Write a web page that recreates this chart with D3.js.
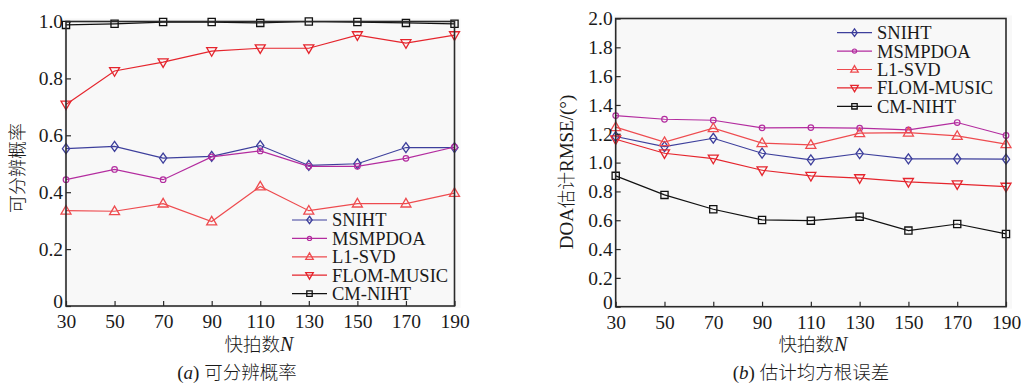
<!DOCTYPE html>
<html>
<head>
<meta charset="utf-8">
<script src="https://cdn.jsdelivr.net/npm/d3@7"></script>
<style>
  body { margin: 0; background: #fff; }
  svg { display: block; }
</style>
</head>
<body>
<svg id="fig" width="1021" height="383"></svg>
<script>
// snapshots N
var snapshots = [30, 50, 70, 90, 110, 130, 150, 170, 190];
var xTicks = [30, 50, 70, 90, 110, 130, 150, 170, 190];
var seriesNames = ["SNIHT", "MSMPDOA", "L1-SVD", "FLOM-MUSIC", "CM-NIHT"];

// (a) resolution probability
var probSNIHT   = [0.553, 0.561, 0.520, 0.526, 0.564, 0.494, 0.500, 0.557, 0.557];
var probMSMPDOA = [0.444, 0.480, 0.444, 0.524, 0.545, 0.491, 0.491, 0.519, 0.559];
var probL1SVD   = [0.335, 0.333, 0.360, 0.297, 0.420, 0.335, 0.360, 0.360, 0.397];
var probFLOM    = [0.708, 0.826, 0.857, 0.896, 0.906, 0.906, 0.952, 0.924, 0.952];
var probCMNIHT  = [0.988, 0.992, 0.998, 0.998, 0.995, 1.000, 0.998, 0.995, 0.992];
var probTicks   = [0, 0.2, 0.4, 0.6, 0.8, 1.0];

// (b) DOA RMSE (deg)
var rmseSNIHT   = [1.181, 1.111, 1.169, 1.065, 1.019, 1.063, 1.026, 1.026, 1.024];
var rmseMSMPDOA = [1.326, 1.301, 1.294, 1.241, 1.243, 1.239, 1.227, 1.278, 1.188];
var rmseL1SVD   = [1.246, 1.142, 1.239, 1.135, 1.123, 1.204, 1.208, 1.185, 1.128];
var rmseFLOM    = [1.162, 1.065, 1.028, 0.947, 0.908, 0.892, 0.866, 0.850, 0.833];
var rmseCMNIHT  = [0.908, 0.776, 0.676, 0.602, 0.597, 0.625, 0.528, 0.574, 0.505];
var rmseTicks   = [0, 0.2, 0.4, 0.6, 0.8, 1.0, 1.2, 1.4, 1.6, 1.8, 2.0];

var styles = [
  {color: "#3d3f9c", marker: "diamond"},
  {color: "#b32c9f", marker: "circle"},
  {color: "#ee4b4f", marker: "up"},
  {color: "#e5252d", marker: "down"},
  {color: "#111111", marker: "square"}
];

var serif = "'Liberation Serif', 'DejaVu Serif', serif";
var cjk = "'Noto Sans CJK SC', sans-serif";

var svg = d3.select("#fig");

function markerPath(type, s) {
  // s = scale factor
  if (type == "diamond") return `M0,${-5*s}L${3.6*s},0L0,${5*s}L${-3.6*s},0Z`;
  if (type == "up") return `M0,${-5.2*s}L${5*s},${3.4*s}L${-5*s},${3.4*s}Z`;
  if (type == "down") return `M0,${5.2*s}L${5*s},${-3.4*s}L${-5*s},${-3.4*s}Z`;
  if (type == "square") return `M${-3.6*s},${-3.6*s}h${7.2*s}v${7.2*s}h${-7.2*s}Z`;
  return null;
}

function drawMarker(g, type, color, x, y, s) {
  if (type == "circle") {
    g.append("circle").attr("cx", x).attr("cy", y).attr("r", 2.8 * s)
      .attr("fill", "none").attr("stroke", color).attr("stroke-width", 1.2);
  } else {
    g.append("path").attr("transform", `translate(${x},${y})`)
      .attr("d", markerPath(type, s))
      .attr("fill", "none").attr("stroke", color).attr("stroke-width", 1.3);
  }
}

function drawChart(p) {
  var x = d3.scaleLinear().domain([30, 190]).range([p.left, p.right]);
  var y = d3.scaleLinear().domain(p.yDomain).range([p.bottom, p.top]);
  var g = svg.append("g");

  g.append("rect")
    .attr("x", p.left - 2).attr("y", p.top - 3)
    .attr("width", p.right - p.left + 8).attr("height", p.bottom - p.top + 5)
    .attr("fill", "#f8f8f8");

  var line = d3.line().x((d, i) => x(snapshots[i])).y(d => y(d));

  p.series.forEach((vals, k) => {
    var st = styles[k];
    g.append("path").datum(vals)
      .attr("d", line)
      .attr("fill", "none").attr("stroke", st.color).attr("stroke-width", 1.2);
    vals.forEach((v, i) => drawMarker(g, st.marker, st.color, x(snapshots[i]), y(v), 1));
  });

  // frame
  g.append("rect")
    .attr("x", p.left).attr("y", p.top)
    .attr("width", p.right - p.left).attr("height", p.bottom - p.top)
    .attr("fill", "none").attr("stroke", "#2a2a2a").attr("stroke-width", 1.6);

  var xAxis = g.append("g")
    .attr("transform", `translate(0,${p.bottom})`)
    .call(d3.axisBottom(x).tickValues(xTicks).tickSizeInner(-5).tickSizeOuter(0).tickPadding(8));
  var yAxis = g.append("g")
    .attr("transform", `translate(${p.left},0)`)
    .call(d3.axisLeft(y).tickValues(p.yTicks).tickFormat(p.yFormat).tickSizeInner(-5).tickSizeOuter(0).tickPadding(3));
  [xAxis, yAxis].forEach(a => {
    a.select(".domain").remove();
    a.selectAll(".tick line").attr("stroke", "#2a2a2a").attr("stroke-width", 1.2);
    a.selectAll(".tick text").attr("fill", "#1a1a1a")
      .style("font-family", serif).style("font-size", "19.5px");
  });
  // lift the zero label a bit so it clears the x labels
  yAxis.selectAll(".tick text").filter(d => d == 0).attr("dy", "0.1em");

  // legend
  var lg = g.append("g");
  seriesNames.forEach((name, k) => {
    var st = styles[k];
    var ly = p.legendY + k * 18.4;
    lg.append("line").attr("x1", p.legendX).attr("x2", p.legendX + 35)
      .attr("y1", ly).attr("y2", ly).attr("stroke", st.color).attr("stroke-width", 1.2);
    drawMarker(lg, st.marker, st.color, p.legendX + 17.5, ly, 0.75);
    lg.append("text").attr("x", p.legendX + 40).attr("y", ly).attr("dy", "0.35em")
      .style("font-family", serif).style("font-size", "18.5px").attr("fill", "#1a1a1a")
      .text(name);
  });

  // y label
  var yl = g.append("text")
    .attr("transform", `translate(${p.yLabelX},${p.yLabelY}) rotate(-90)`)
    .attr("text-anchor", "middle").attr("dy", "0.35em")
    .attr("fill", "#1a1a1a").style("font-size", "18px").style("font-weight", 300);
  p.yLabel.forEach(part => {
    yl.append("tspan").style("font-family", part.cjk ? cjk : serif)
      .style("font-size", part.cjk ? "18px" : "19px").text(part.t);
  });

  // x label
  var xl = g.append("text")
    .attr("x", p.xLabelX).attr("y", 351)
    .attr("text-anchor", "middle").attr("fill", "#1a1a1a").style("font-size", "18.5px").style("font-weight", 300);
  xl.append("tspan").style("font-family", cjk).text("快拍数");
  xl.append("tspan").style("font-family", serif).style("font-style", "italic").style("font-size", "20px").text("N");

  // caption
  var cap = g.append("text")
    .attr("x", p.captionX).attr("y", 379)
    .attr("text-anchor", "middle").attr("fill", "#1a1a1a").style("font-size", "18.5px").style("font-weight", 300);
  cap.append("tspan").style("font-family", serif).style("font-size", "19px").text("(");
  cap.append("tspan").style("font-family", serif).style("font-size", "19px").style("font-style", "italic").text(p.captionLetter);
  cap.append("tspan").style("font-family", serif).style("font-size", "19px").text(") ");
  cap.append("tspan").style("font-family", cjk).text(p.caption);
}

drawChart({
  left: 66, right: 454.5, top: 21.5, bottom: 306,
  yDomain: [0, 1], yTicks: probTicks,
  yFormat: d => d == 0 ? "0" : d3.format(".1f")(d),
  series: [probSNIHT, probMSMPDOA, probL1SVD, probFLOM, probCMNIHT],
  legendX: 292, legendY: 220,
  yLabelX: 18, yLabelY: 168, yLabel: [{t: "可分辨概率", cjk: true}],
  xLabelX: 259, captionX: 237, captionLetter: "a", caption: "可分辨概率"
});

drawChart({
  left: 615.7, right: 1006, top: 18.5, bottom: 306.7,
  yDomain: [0, 2], yTicks: rmseTicks,
  yFormat: d => d == 0 ? "0" : d3.format(".1f")(d),
  series: [rmseSNIHT, rmseMSMPDOA, rmseL1SVD, rmseFLOM, rmseCMNIHT],
  legendX: 837, legendY: 32.7,
  yLabelX: 567, yLabelY: 172, yLabel: [{t: "DOA", cjk: false}, {t: "估计", cjk: true}, {t: "RMSE/(°)", cjk: false}],
  xLabelX: 813, captionX: 811, captionLetter: "b", caption: "估计均方根误差"
});
</script>
</body>
</html>
